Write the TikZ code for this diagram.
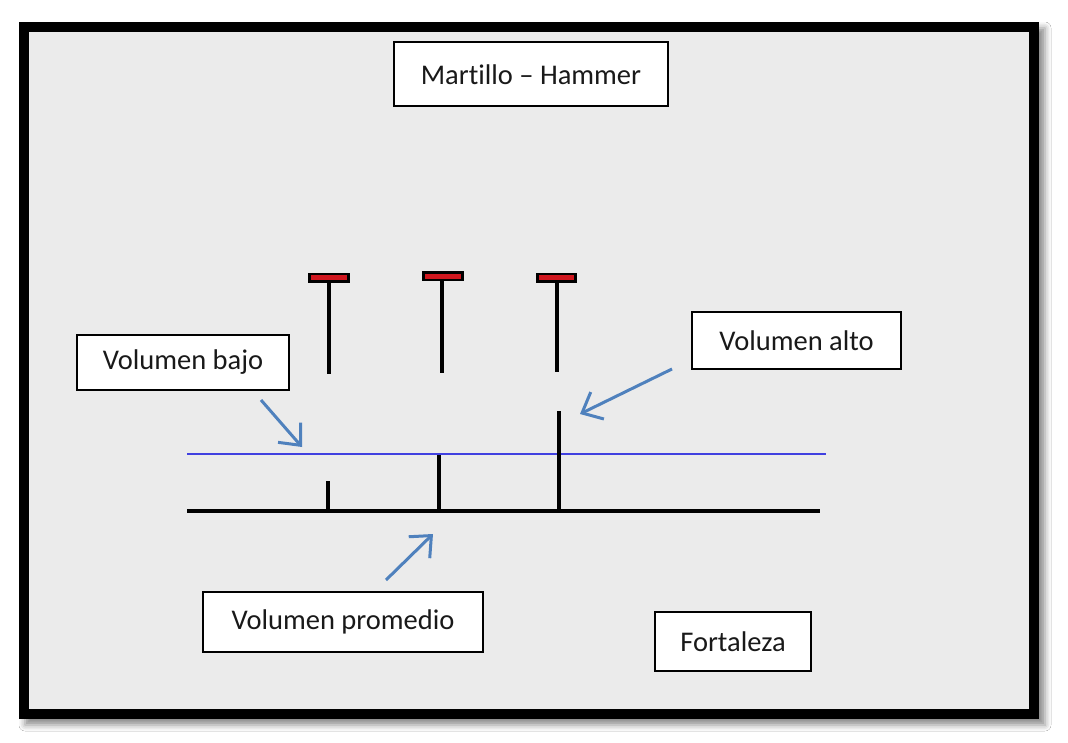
\documentclass[tikz,border=0pt]{standalone}
\usepackage{fontspec}
\setmainfont{Carlito}[Ligatures=NoCommon]
\usetikzlibrary{arrows.meta,shadows.blur}
\definecolor{bggray}{HTML}{EBEBEB}
\definecolor{arrowblue}{HTML}{4F81BD}
\definecolor{levelblue}{rgb}{0.25,0.25,0.88}
\definecolor{hammerred}{HTML}{D0161E}
\tikzset{
  label box/.style={draw=black, line width=2pt, fill=white, inner sep=0pt,
    font=\fontsize{28.5}{33}\selectfont, text=black!90},
  pointer/.style={draw=arrowblue, line width=3pt,
    -{Straight Barb[length=17pt,width=30pt,line width=3pt]}},
  stem/.style={draw=black, line width=4.5pt},
  head/.style={draw=black, line width=2.5pt, fill=hammerred},
  spike/.style={draw=black, line width=4.5pt},
  bluelevel/.style={draw=levelblue, line width=2pt},
}
\begin{document}
\begin{tikzpicture}[x=1pt,y=-1pt]
\useasboundingbox (0,0) rectangle (1068,743);
\fill[white] (0,0) rectangle (1068,743);
% frame with shadow
\fill[black, blur shadow={shadow xshift=6pt, shadow yshift=-6pt, shadow blur radius=6pt, shadow opacity=45}] (19,22) rectangle (1039,719);
\fill[bggray] (29,32) rectangle (1029,709);

% text boxes
\node[label box, minimum width=274pt, minimum height=64pt] (title) at (531,74.5) {Martillo – Hammer};
\node[label box, minimum width=212pt, minimum height=55pt] (bajo) at (183,362.5) {Volumen bajo};
\node[label box, minimum width=209pt, minimum height=57pt] (alto) at (796.5,340.5) {Volumen alto};
\node[label box, minimum width=280pt, minimum height=60pt] (prom) at (343,622) {Volumen promedio};
\node[label box, minimum width=156pt, minimum height=59pt] (fort) at (733,641.5) {Fortaleza};

% hammers
\coordinate (h1top) at (329,282); \coordinate (h1bot) at (329,374);
\coordinate (h2top) at (442,281); \coordinate (h2bot) at (442,373);
\coordinate (h3top) at (557,282); \coordinate (h3bot) at (557,372);
\draw[stem] (h1top) -- (h1bot);
\draw[stem] (h2top) -- (h2bot);
\draw[stem] (h3top) -- (h3bot);
\filldraw[head] (309.5,274) rectangle (348.5,281.5);
\filldraw[head] (423.5,272.5) rectangle (462.5,280);
\filldraw[head] (537.5,274) rectangle (575.5,281.5);

% blue level line
\coordinate (blueL) at (187,453.5); \coordinate (blueR) at (826,453.5);
\path[bluelevel] (blueL) -- (blueR);

% base line and spikes
\coordinate (baseL) at (187,511); \coordinate (baseR) at (820,511);
\coordinate (s1b) at (328,511); \coordinate (s1t) at (328,481);
\coordinate (s2b) at (439,511); \coordinate (s2t) at (439,455);
\coordinate (s3b) at (559,511); \coordinate (s3t) at (559,411);
\draw[spike] (s1b) -- (s1t);
\draw[spike] (s2b) -- (s2t);
\draw[spike] (s3b) -- (s3t);
\draw[black, line width=3.5pt] (baseL) -- (baseR);

% pointers
\coordinate (pbS) at (261,400); \coordinate (pbT) at (302,447);
\coordinate (paS) at (672,369); \coordinate (paT) at (580,414);
\coordinate (ppS) at (386,580); \coordinate (ppT) at (433,534);
\draw[pointer] (pbS) -- (pbT);
\draw[pointer] (paS) -- (paT);
\draw[pointer] (ppS) -- (ppT);
\end{tikzpicture}
\end{document}
